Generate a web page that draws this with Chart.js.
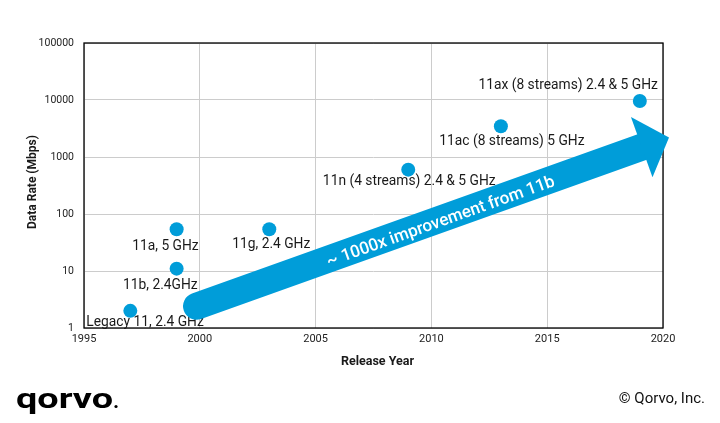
<!DOCTYPE html>
<html><head><meta charset="utf-8">
<script src="https://cdn.jsdelivr.net/npm/chart.js@4.4.0/dist/chart.umd.min.js"></script>
<style>html,body{margin:0;padding:0;background:#fff;}#wrap{width:720px;height:423px;position:relative}</style>
</head><body><div id="wrap"><canvas id="c" width="720" height="423"></canvas></div>
<script>
// ---- data ----
const standards = ['Legacy 11, 2.4 GHz', '11b, 2.4GHz', '11a, 5 GHz', '11g, 2.4 GHz',
  '11n (4 streams) 2.4 & 5 GHz', '11ac (8 streams) 5 GHz', '11ax (8 streams) 2.4 & 5 GHz'];
const releaseYears = [1997, 1999, 1999, 2003, 2009, 2013, 2019];
const dataRatesMbps = [2, 11, 54, 54, 600, 3467, 9608];
const xTicks = [1995, 2000, 2005, 2010, 2015, 2020];
const yTicks = [1, 10, 100, 1000, 10000, 100000];
const arrowFrom = [1999.86, 2.4];   // [year, Mbps]
const arrowTo = [2020.26, 2200];
const arrowText = '~ 1000x improvement from 11b';
const xTitle = 'Release Year';
const yTitle = 'Data Rate (Mbps)';
const copyrightText = '\u00A9 Qorvo, Inc.';
const logoText = 'qorvo';

// ---- styles ----
const FONT = 'Roboto, "Liberation Sans", sans-serif';
const BLUE = '#009dd9';
const labelStyle = [
  {align: 'left', dx: -44, dy: 12},
  {align: 'right', dx: 21, dy: 17},
  {align: 'right', dx: 22, dy: 17},
  {align: 'center', dx: 2, dy: 15},
  {align: 'center', dx: 1, dy: 12},
  {align: 'center', dx: 11, dy: 15},
  {align: 'right', dx: 18, dy: -15}
];

const decor = {
  id: 'decor',
  afterDraw(chart) {
    const {ctx, chartArea: a, scales: {x, y}} = chart;
    ctx.save();
    // frame
    ctx.strokeStyle = '#000'; ctx.lineWidth = 1.3;
    ctx.strokeRect(a.left, a.top, a.right - a.left, a.bottom - a.top);
    // point labels
    ctx.font = '13.8px ' + FONT; ctx.fillStyle = '#1a1a1a'; ctx.textBaseline = 'middle';
    standards.forEach((s, i) => {
      const px = x.getPixelForValue(releaseYears[i]);
      const py = y.getPixelForValue(dataRatesMbps[i]);
      const o = labelStyle[i];
      ctx.textAlign = o.align;
      ctx.fillText(s, px + o.dx, py + o.dy);
    });
    // arrow
    const x0 = x.getPixelForValue(arrowFrom[0]), y0 = y.getPixelForValue(arrowFrom[1]);
    const x1 = x.getPixelForValue(arrowTo[0]), y1 = y.getPixelForValue(arrowTo[1]);
    const dx = x1 - x0, dy = y1 - y0, L = Math.hypot(dx, dy);
    const ux = dx / L, uy = dy / L, nx = -uy, ny = ux;
    const headLen = 29, headHalf = 32, shaft = 27;
    const bx = x1 - ux * headLen, by = y1 - uy * headLen;
    ctx.strokeStyle = BLUE; ctx.lineWidth = shaft; ctx.lineCap = 'round';
    ctx.beginPath(); ctx.moveTo(x0, y0); ctx.lineTo(bx + ux * 2, by + uy * 2); ctx.stroke();
    ctx.fillStyle = BLUE;
    ctx.beginPath();
    ctx.moveTo(x1, y1);
    ctx.lineTo(bx + nx * headHalf, by + ny * headHalf);
    ctx.lineTo(bx - nx * headHalf, by - ny * headHalf);
    ctx.closePath(); ctx.fill();
    // arrow text
    const t = 0.515;
    const cx = x0 + dx * t + nx * 3, cy = y0 + dy * t + ny * 3;
    ctx.save();
    ctx.translate(cx, cy); ctx.rotate(Math.atan2(dy, dx));
    ctx.fillStyle = '#fff'; ctx.font = '500 17px ' + FONT;
    ctx.textAlign = 'center'; ctx.textBaseline = 'middle';
    ctx.fillText(arrowText, 0, 0);
    ctx.restore();
    // axis titles
    ctx.fillStyle = '#1a1a1a';
    ctx.font = 'bold 12.5px ' + FONT; ctx.textAlign = 'center'; ctx.textBaseline = 'middle';
    ctx.fillText(xTitle, (a.left + a.right) / 2 + 4, 362);
    ctx.save(); ctx.translate(33, 182); ctx.rotate(-Math.PI / 2);
    ctx.font = 'bold 12px ' + FONT;
    ctx.fillText(yTitle, 0, 0); ctx.restore();
    // copyright
    ctx.font = '15px ' + FONT; ctx.textAlign = 'right'; ctx.fillStyle = '#111';
    ctx.fillText(copyrightText, 705, 399);
    // logo
    ctx.save();
    ctx.font = 'bold 28px ' + FONT; ctx.textAlign = 'left'; ctx.textBaseline = 'alphabetic';
    const w = ctx.measureText(logoText).width;
    ctx.translate(16, 408); ctx.scale(97 / w, 1);
    ctx.fillStyle = '#000';
    ctx.fillText(logoText, 0, 0);
    ctx.restore();
    ctx.beginPath(); ctx.arc(116, 406.5, 1.6, 0, Math.PI * 2); ctx.fillStyle = '#000'; ctx.fill();
    ctx.restore();
  }
};

new Chart(document.getElementById('c'), {
  type: 'scatter',
  data: {
    datasets: [{
      data: releaseYears.map((yr, i) => ({x: yr, y: dataRatesMbps[i]})),
      backgroundColor: BLUE, borderColor: BLUE, borderWidth: 0,
      pointRadius: 7, pointHoverRadius: 7
    }]
  },
  options: {
    responsive: false, animation: false, devicePixelRatio: 1,
    layout: {padding: {left: 0, right: 57, top: 43, bottom: 0}},
    plugins: {legend: {display: false}, tooltip: {enabled: false}},
    scales: {
      x: {
        type: 'linear', min: 1995, max: 2020,
        afterBuildTicks: s => { s.ticks = xTicks.map(v => ({value: v})); },
        afterFit: s => { s.height = 95; },
        grid: {color: '#cccccc', lineWidth: 1, drawTicks: false},
        border: {display: false},
        ticks: {padding: 5, color: '#222', font: {family: FONT, size: 11}, callback: v => String(v), maxRotation: 0, autoSkip: false}
      },
      y: {
        type: 'logarithmic', min: 1, max: 100000,
        afterBuildTicks: s => { s.ticks = yTicks.map(v => ({value: v})); },
        afterFit: s => { s.width = 84; },
        grid: {color: '#cccccc', lineWidth: 1, drawTicks: false},
        border: {display: false},
        ticks: {padding: 10, color: '#222', font: {family: FONT, size: 10.5}, callback: v => String(v), autoSkip: false}
      }
    }
  },
  plugins: [decor]
});
</script></body></html>
